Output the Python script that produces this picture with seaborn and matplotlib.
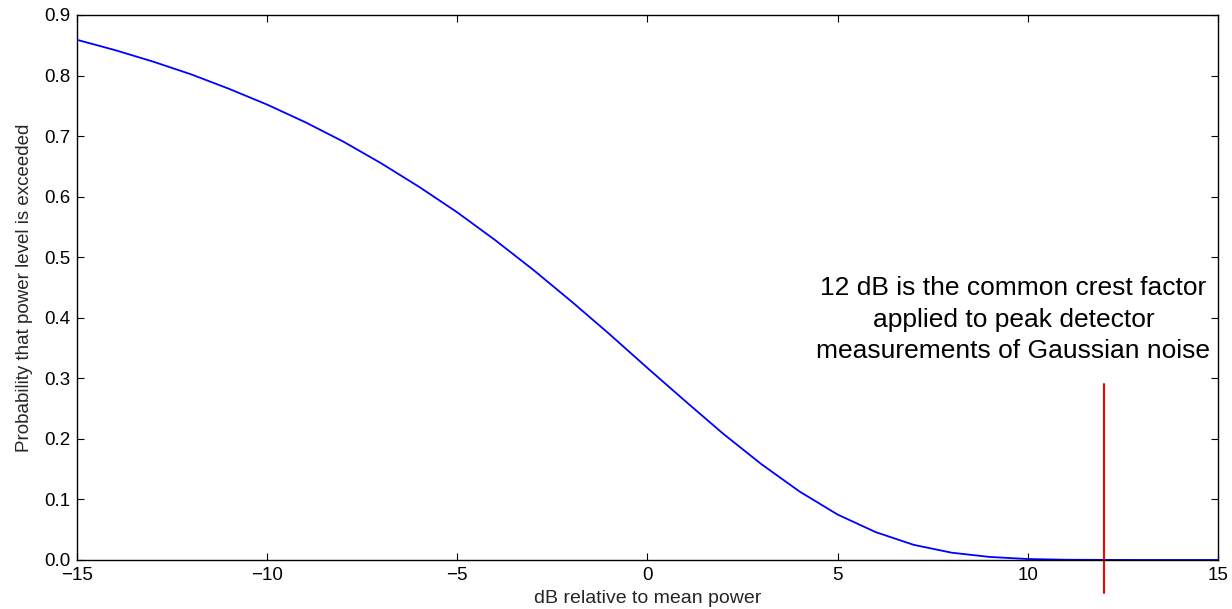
import matplotlib
matplotlib.use("Agg")
import matplotlib.pyplot as plt
import seaborn as sns
import pandas as pd

# dB relative to mean power
db_levels = [-15, -14, -13, -12, -11, -10, -9, -8, -7, -6, -5, -4, -3, -2, -1, 0,
             1, 2, 3, 4, 5, 6, 7, 8, 9, 10, 11, 12, 13, 14, 15]
# probability that power level is exceeded
prob_exceeded = [0.859, 0.842, 0.823, 0.802, 0.778, 0.752, 0.723, 0.691, 0.655, 0.616,
                 0.574, 0.528, 0.479, 0.427, 0.373, 0.317, 0.262, 0.208, 0.158, 0.113,
                 0.075, 0.046, 0.025, 0.012, 0.005, 0.0016, 0.0004, 0.0001, 0.0, 0.0, 0.0]

marker_db = 12
marker_range = [-0.055, 0.29]
annotation = "12 dB is the common crest factor\napplied to peak detector\nmeasurements of Gaussian noise"

sns.set_theme(style="white")
plt.rcParams['font.family'] = ['Liberation Sans', 'DejaVu Sans']

df = pd.DataFrame({"dB": db_levels, "p": prob_exceeded})

fig = plt.figure(figsize=(12.32, 6.09), dpi=100)
ax = fig.add_axes([0.0625, 0.0805, 0.9261, 0.8949])
sns.lineplot(data=df, x="dB", y="p", ax=ax, color="blue", linewidth=1.3)

ax.plot([marker_db, marker_db], marker_range, color="red", linewidth=1.5, clip_on=False)
ax.text(9.62, 0.397, annotation, ha="center", va="center", fontsize=19,
        linespacing=1.4, color="black")

ax.set_xlim(-15, 15)
ax.set_ylim(0, 0.9)
ax.set_xticks([-15, -10, -5, 0, 5, 10, 15])
ax.set_xticklabels(["\u221215", "\u221210", "\u22125", "0", "5", "10", "15"])
ax.set_yticks([0.0, 0.1, 0.2, 0.3, 0.4, 0.5, 0.6, 0.7, 0.8, 0.9])
ax.set_yticklabels([f"{v:.1f}" for v in [0.0, 0.1, 0.2, 0.3, 0.4, 0.5, 0.6, 0.7, 0.8, 0.9]])
ax.set_xlabel("dB relative to mean power", fontsize=14, labelpad=4.5)
ax.set_ylabel("Probability that power level is exceeded", fontsize=13.5, labelpad=8)
ax.tick_params(axis="both", which="both", direction="in", length=5, width=0.8,
               top=True, right=True, bottom=True, left=True, labelsize=13.5, pad=5,
               colors="black")
for s in ax.spines.values():
    s.set_visible(True)
    s.set_color("black")
    s.set_linewidth(1.0)
ax.grid(False)

fig.savefig("out.png", dpi=100)
